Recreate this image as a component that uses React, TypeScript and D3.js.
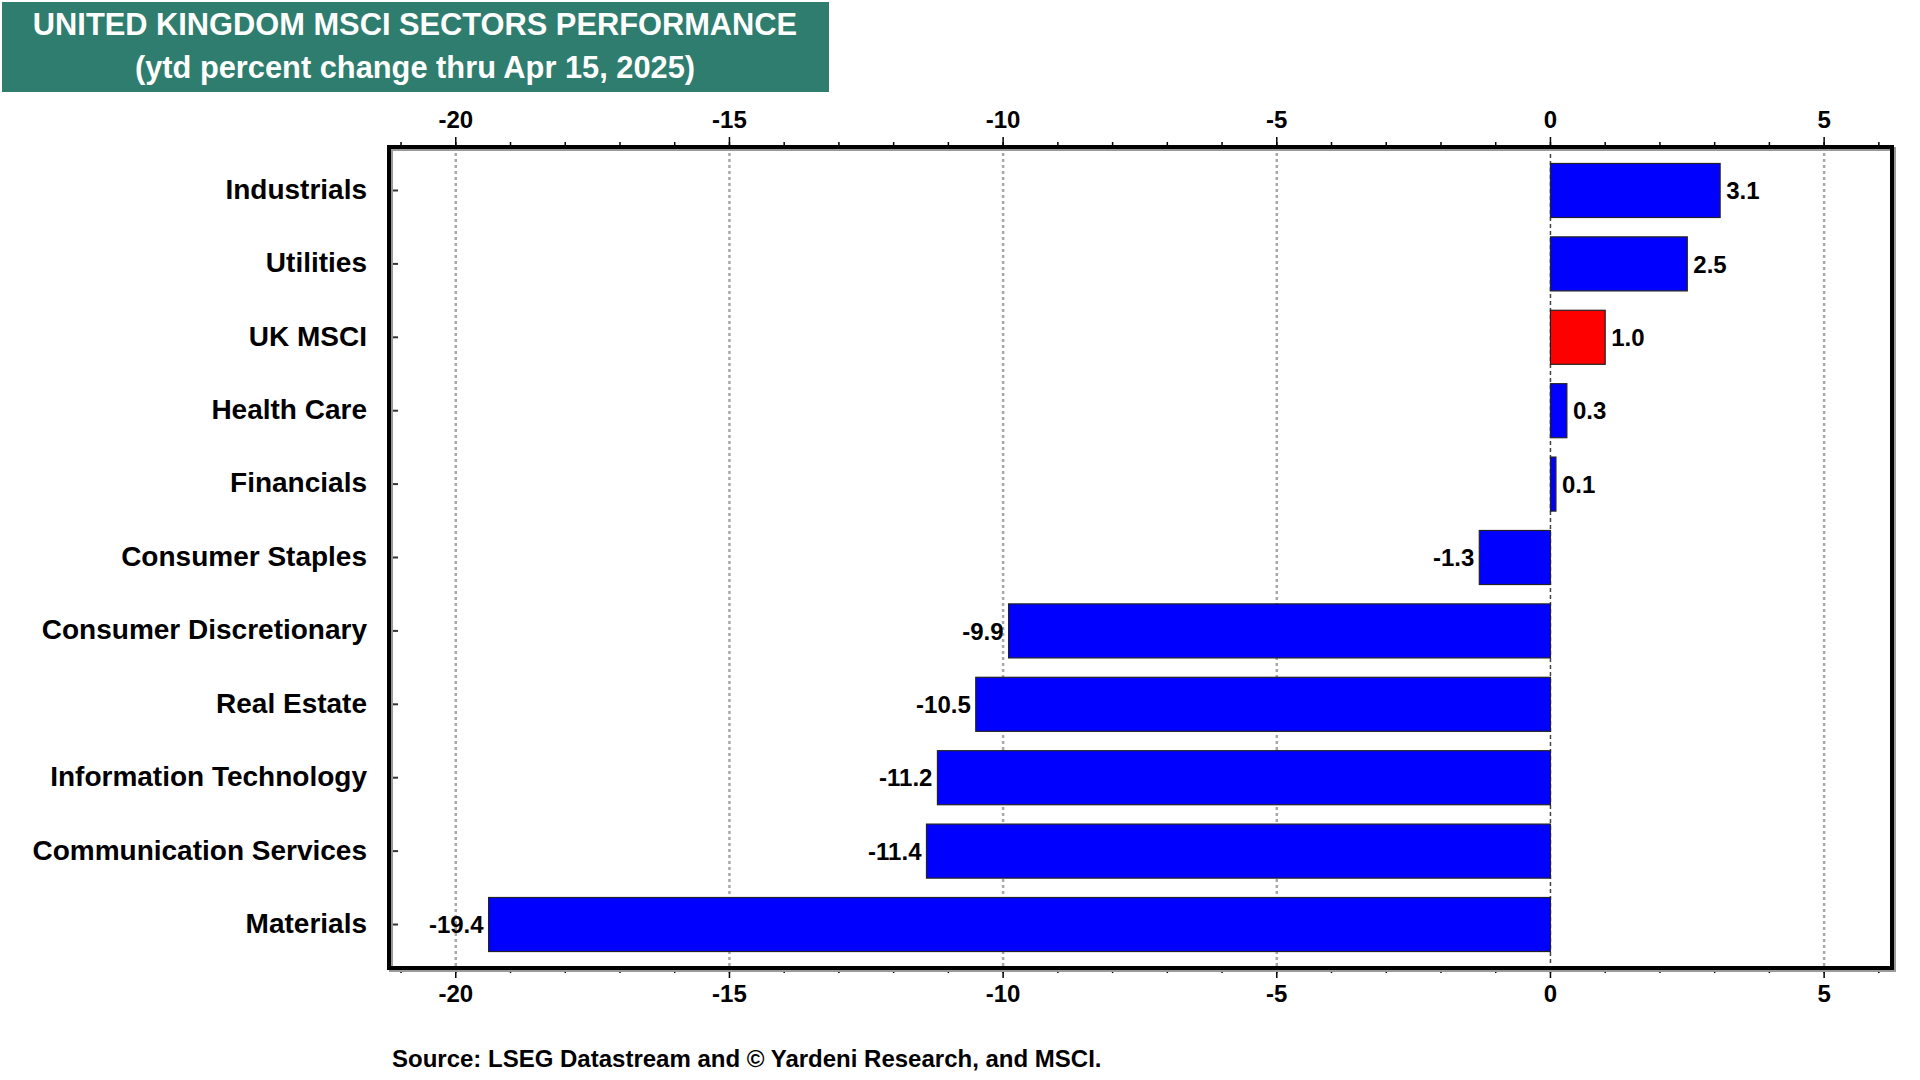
import React from 'react';
import * as d3 from 'd3';

const categories = [
  'Industrials',
  'Utilities',
  'UK MSCI',
  'Health Care',
  'Financials',
  'Consumer Staples',
  'Consumer Discretionary',
  'Real Estate',
  'Information Technology',
  'Communication Services',
  'Materials',
];
const values = [3.1, 2.5, 1.0, 0.3, 0.1, -1.3, -9.9, -10.5, -11.2, -11.4, -19.4];
const highlighted = 'UK MSCI';
const majorTicks = [-20, -15, -10, -5, 0, 5];
const minorTicks = d3.range(-21, 7, 1);

const titleLines = [
  'UNITED KINGDOM MSCI SECTORS PERFORMANCE',
  '(ytd percent change thru Apr 15, 2025)',
];
const source = 'Source: LSEG Datastream and \u00A9 Yardeni Research, and MSCI.';

const FONT = '"Liberation Sans", Arial, Helvetica, sans-serif';

export default function App() {
  const width = 1920;
  const height = 1080;
  const plot = { left: 389, top: 147, right: 1892, bottom: 968 };

  const x = d3.scaleLinear().domain([-21.22, 6.24]).range([plot.left, plot.right]);
  const y = d3
    .scaleBand<string>()
    .domain(categories)
    .range([plot.top, plot.bottom])
    .paddingInner(0.264)
    .paddingOuter(0.2245);

  const rows = categories.map((c, i) => ({ name: c, value: values[i] }));

  return (
    <svg
      width={width}
      height={height}
      style={{ position: 'absolute', left: 0, top: 0, background: '#fff' }}
      fontFamily={FONT}
      fontWeight="bold"
    >
      {/* title box */}
      <rect x={2} y={2} width={827} height={90} fill="#2E7D6F" />
      {titleLines.map((t, i) => (
        <text key={i} x={415} y={35 + i * 43} textAnchor="middle" fill="#fff" fontSize={30.8}>
          {t}
        </text>
      ))}

      {/* gridlines */}
      {majorTicks.map((t) => (
        <line
          key={'g' + t}
          x1={x(t)}
          x2={x(t)}
          y1={plot.top}
          y2={plot.bottom}
          stroke={t === 0 ? '#444' : '#A8A8A8'}
          strokeWidth={t === 0 ? 1.5 : 2.5}
          strokeDasharray={t === 0 ? '4,3' : '3,3'}
        />
      ))}

      {/* bars */}
      {rows.map((d) => {
        const x0 = x(Math.min(0, d.value));
        const w = Math.abs(x(d.value) - x(0));
        const yc = (y(d.name) ?? 0) + y.bandwidth() / 2;
        return (
          <g key={d.name}>
            <rect
              x={x0}
              y={y(d.name)}
              width={w}
              height={y.bandwidth()}
              fill={d.name === highlighted ? '#FF0000' : '#0000FF'}
              stroke="#222"
              strokeWidth={1.2}
            />
            <text
              x={d.value >= 0 ? x(d.value) + 6 : x(d.value) - 5}
              y={yc}
              dy="0.36em"
              textAnchor={d.value >= 0 ? 'start' : 'end'}
              fontSize={24}
              fill="#000"
            >
              {d.value.toFixed(1)}
            </text>
          </g>
        );
      })}

      {/* category labels and left ticks */}
      {categories.map((c) => {
        const yc = (y(c) ?? 0) + y.bandwidth() / 2;
        return (
          <g key={'c' + c}>
            <line x1={plot.left} x2={plot.left + 9} y1={yc} y2={yc} stroke="#333" strokeWidth={2} />
            <text x={367} y={yc} dy="0.3em" textAnchor="end" fontSize={28} fill="#000">
              {c}
            </text>
          </g>
        );
      })}

      {/* minor ticks top and bottom */}
      {minorTicks.map((t) => (
        <g key={'m' + t}>
          <line x1={x(t)} x2={x(t)} y1={plot.top} y2={plot.top - 5} stroke="#000" strokeWidth={1.5} />
          <line x1={x(t)} x2={x(t)} y1={plot.bottom} y2={plot.bottom + 5} stroke="#000" strokeWidth={1.5} />
        </g>
      ))}

      {/* major ticks and labels */}
      {majorTicks.map((t) => (
        <g key={'t' + t}>
          <line x1={x(t)} x2={x(t)} y1={plot.top} y2={plot.top - 10} stroke="#000" strokeWidth={1.5} />
          <line x1={x(t)} x2={x(t)} y1={plot.bottom} y2={plot.bottom + 10} stroke="#000" strokeWidth={1.5} />
          <text x={x(t)} y={127.5} textAnchor="middle" fontSize={24} fill="#000">
            {t}
          </text>
          <text x={x(t)} y={1001.5} textAnchor="middle" fontSize={24} fill="#000">
            {t}
          </text>
        </g>
      ))}

      {/* frame with shadow */}
      <rect
        x={plot.left + 2}
        y={plot.top + 2}
        width={plot.right - plot.left}
        height={plot.bottom - plot.top}
        fill="none"
        stroke="#9A9A9A"
        strokeWidth={4}
      />
      <rect
        x={plot.left}
        y={plot.top}
        width={plot.right - plot.left}
        height={plot.bottom - plot.top}
        fill="none"
        stroke="#000"
        strokeWidth={4}
      />

      <text x={392} y={1067} fontSize={24} fill="#000">
        {source}
      </text>
    </svg>
  );
}
